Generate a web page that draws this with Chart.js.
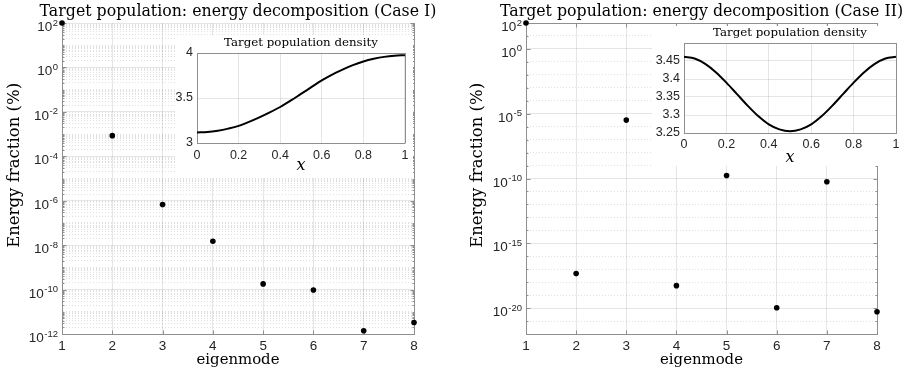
<!DOCTYPE html>
<html><head><meta charset="utf-8">
<script src="https://cdn.jsdelivr.net/npm/chart.js@4.4.1/dist/chart.umd.min.js"></script>
<style>
html,body{margin:0;padding:0;background:#fff;}
#wrap{position:relative;width:908px;height:370px;overflow:hidden;background:#fff;}
canvas{position:absolute;display:block;}
.inset{background:#fff;}
</style></head><body>
<div id="wrap">
<canvas id="mainL" width="476" height="370" style="left:0;top:0;width:476px;height:370px"></canvas>
<canvas id="mainR" width="495" height="370" style="left:454px;top:0;width:495px;height:370px"></canvas>
<canvas id="insetL" class="inset" width="238" height="143" style="left:175px;top:35px;width:238px;height:143px"></canvas>
<canvas id="insetR" class="inset" width="256" height="140" style="left:652px;top:26px;width:256px;height:140px"></canvas>
</div>
<script>
// ---------------- data ----------------
const eigenmodes = [1, 2, 3, 4, 5, 6, 7, 8];
const energyCaseI  = [100, 8.5e-4, 6.8e-7, 1.5e-8, 1.8e-10, 9.5e-11, 1.4e-12, 3.3e-12];
const energyCaseII = [100, 4.6e-18, 3.2e-6, 5.4e-19, 1.7e-10, 1.07e-20, 5.6e-11, 5.2e-21];

const densityX      = [0, 0.05, 0.1, 0.15, 0.2, 0.25, 0.3, 0.35, 0.4, 0.45, 0.5, 0.55, 0.6, 0.65, 0.7, 0.75, 0.8, 0.85, 0.9, 0.95, 1];
const densityCaseI  = [3.117, 3.122, 3.137, 3.16, 3.19, 3.235, 3.285, 3.34, 3.40, 3.47, 3.545, 3.62, 3.695, 3.76, 3.815, 3.865, 3.905, 3.935, 3.957, 3.97, 3.975];
const densityCaseII = [3.462, 3.457, 3.442, 3.419, 3.39, 3.358, 3.326, 3.297, 3.274, 3.26, 3.255, 3.26, 3.274, 3.297, 3.326, 3.358, 3.39, 3.419, 3.442, 3.457, 3.462];

const titleCaseI  = 'Target population: energy decomposition (Case I)';
const titleCaseII = 'Target population: energy decomposition (Case II)';
const insetTitle  = 'Target population density';
const yLabelMain  = 'Energy fraction (%)';
const xLabelMain  = 'eigenmode';
const xLabelInset = 'x';

const xTicksMain     = [1, 2, 3, 4, 5, 6, 7, 8];
const yExpTicksCaseI  = [2, 0, -2, -4, -6, -8, -10, -12];
const yExpTicksCaseII = [2, 0, -5, -10, -15, -20];
const xTicksInset    = [0, 0.2, 0.4, 0.6, 0.8, 1];
const yTicksInsetI   = [3, 3.5, 4];
const yTicksInsetII  = [3.25, 3.3, 3.35, 3.4, 3.45];

// ---------------- styles ----------------
const SERIF = '"DejaVu Serif", serif';
const SANS = '"Liberation Sans", Arial, sans-serif';
const AXIS = '#8f8f8f';
const TICKC = '#262626';
const GRID_MAJ = 'rgba(38,38,38,0.12)';
const GRID_MIN = 'rgba(38,38,38,0.14)';

// font size that makes a text reach a given width
const mctx = document.createElement('canvas').getContext('2d');
function fitSize(text, family, style, target) {
  mctx.font = style + ' 20px ' + family;
  return 20 * target / mctx.measureText(text).width;
}
const titleSize  = fitSize(titleCaseI, SERIF, 'normal', 397);
const yLabelSize = fitSize(yLabelMain, SERIF, 'normal', 165);
const xLabelSize = fitSize(xLabelMain, SERIF, 'normal', 83);
const insetTitleSize = fitSize(insetTitle, SERIF, 'normal', 154);
mctx.font = 'normal ' + yLabelSize + 'px ' + SERIF;
const spaceW = mctx.measureText(' ').width;
const nSpaces = Math.max(0, Math.round(28 / spaceW));
const yLabelText = ' '.repeat(nSpaces) + yLabelMain;

// log grid positions
function logGrid(minExp, maxExp, majorExps, subDecades) {
  const t = [];
  for (let e = minExp; e <= maxExp; e++) {
    t.push({value: Math.pow(10, e), major: majorExps.includes(e)});
    if (subDecades && e < maxExp) {
      for (let j = 2; j <= 9; j++) t.push({value: j * Math.pow(10, e), major: false});
    }
  }
  return t;
}

const frame = {
  id: 'frame',
  beforeDatasetsDraw(chart, args, o) {
    const {ctx, chartArea: a, scales} = chart;
    ctx.save();
    ctx.strokeStyle = o.color || AXIS;
    ctx.lineWidth = 1;
    ctx.beginPath();
    const R = Math.round(a.right) + 0.5, T = Math.round(a.top) + 0.5;
    const L = Math.round(a.left) + 0.5, B = Math.round(a.bottom) + 0.5;
    if (o.right) { ctx.moveTo(R, a.top); ctx.lineTo(R, a.bottom + 0.5); }
    if (o.top) { ctx.moveTo(a.left, T); ctx.lineTo(a.right + 0.5, T); }
    (o.xTicks || []).forEach(v => {
      const x = Math.round(scales.x.getPixelForValue(v)) + 0.5;
      ctx.moveTo(x, B); ctx.lineTo(x, B - 4);
      if (o.top) { ctx.moveTo(x, T); ctx.lineTo(x, T + 4); }
    });
    (o.yTicks || []).forEach(t => {
      const y = Math.round(scales.y.getPixelForValue(t.value)) + 0.5;
      const len = t.major ? 4 : 2;
      ctx.moveTo(L, y); ctx.lineTo(L + len, y);
      if (o.right) { ctx.moveTo(R, y); ctx.lineTo(R - len, y); }
    });
    ctx.stroke();
    ctx.restore();
  }
};

const logLabels = {
  id: 'logLabels',
  afterDraw(chart, args, o) {
    if (!o.exps) return;
    const {ctx} = chart;
    const ys = chart.scales.y;
    const xr = chart.chartArea.left - 4;
    ctx.save();
    ctx.fillStyle = TICKC;
    ctx.textBaseline = 'alphabetic';
    ctx.textAlign = 'right';
    o.exps.forEach(e => {
      const py = ys.getPixelForValue(Math.pow(10, e));
      const es = String(e);
      ctx.font = '9.5px ' + SANS;
      const ew = ctx.measureText(es).width;
      ctx.fillText(es, xr, py + 2.5);
      ctx.font = '13.5px ' + SANS;
      ctx.fillText('10', xr - ew - 0.5, py + 8);
    });
    ctx.restore();
  }
};

function mainChart(id, title, values, exps, minExp, maxExp, subDecades, rightW, yW, yTitlePad) {
  const yGrid = logGrid(minExp, maxExp, exps, subDecades);
  return new Chart(document.getElementById(id), {
    type: 'scatter',
    data: {datasets: [{
      data: eigenmodes.map((m, i) => ({x: m, y: values[i]})),
      backgroundColor: '#000', borderColor: '#000',
      pointRadius: 2.8, pointHoverRadius: 2.8, pointBorderWidth: 0, clip: false
    }]},
    options: {
      responsive: false, animation: false, events: [],
      layout: {padding: 0},
      plugins: {
        legend: {display: false}, tooltip: {enabled: false},
        title: {display: true, text: title, fullSize: true, color: '#000',
          font: {family: SERIF, size: titleSize, weight: 'normal', lineHeight: '20px'},
          padding: {top: 1.5, bottom: 1.5}},
        frame: {right: true, top: id === 'mainR', xTicks: xTicksMain, yTicks: yGrid},
        logLabels: {exps: exps}
      },
      scales: {
        x: {
          type: 'linear', min: 1, max: 8,
          afterBuildTicks: s => { s.ticks = xTicksMain.map(v => ({value: v})); },
          ticks: {font: {family: SANS, size: 13.5}, color: TICKC, padding: 4.4, autoSkip: false, maxRotation: 0, callback: v => String(v)},
          grid: {drawTicks: false, color: GRID_MAJ, lineWidth: 1},
          border: {color: AXIS, width: 1},
          title: {display: true, text: xLabelMain, color: '#000', font: {family: SERIF, size: xLabelSize, lineHeight: '16px'}, padding: {top: 0, bottom: 2}},
          afterFit: s => { s.height = 36; }
        },
        y: {
          type: 'logarithmic', min: Math.pow(10, minExp), max: Math.pow(10, maxExp),
          afterBuildTicks: s => { s.ticks = yGrid.map(t => ({value: t.value, major: t.major})); },
          ticks: {display: false},
          grid: {drawTicks: false, lineWidth: 1, color: c => (c.tick && !c.tick.major) ? GRID_MIN : GRID_MAJ},
          border: {color: AXIS, width: 1, dash: c => (c.type === 'tick' && c.tick && !c.tick.major) ? [1, 2] : []},
          title: {display: true, text: yLabelText, color: '#000', font: {family: SERIF, size: yLabelSize, lineHeight: '17px'}, padding: {top: yTitlePad, bottom: 0}},
          afterFit: s => { s.width = yW; }
        },
        yRight: {
          type: 'linear', position: 'right', display: true, min: 0, max: 1,
          ticks: {display: false}, grid: {display: false, drawTicks: false}, border: {display: false},
          afterFit: s => { s.width = rightW; }
        }
      }
    },
    plugins: [frame, logLabels]
  });
}

function insetChart(id, ys, yMin, yMax, yTicks, padRight, yW, xH, tPad, xTitlePB, xTickPad) {
  return new Chart(document.getElementById(id), {
    type: 'scatter',
    data: {datasets: [{
      data: densityX.map((x, i) => ({x: x, y: ys[i]})),
      showLine: true, borderColor: '#000', borderWidth: 2, pointRadius: 0,
      cubicInterpolationMode: 'monotone', fill: false
    }]},
    options: {
      responsive: false, animation: false, events: [],
      layout: {padding: {left: 0, right: padRight, top: 0, bottom: 0}},
      plugins: {
        legend: {display: false}, tooltip: {enabled: false},
        title: {display: true, text: insetTitle, fullSize: false, color: '#000',
          font: {family: SERIF, size: insetTitleSize, weight: 'normal', lineHeight: '14px'}, padding: tPad},
        frame: {right: true, top: true}
      },
      scales: {
        x: {
          type: 'linear', min: 0, max: 1,
          afterBuildTicks: s => { s.ticks = xTicksInset.map(v => ({value: v})); },
          ticks: {font: {family: SANS, size: 12.5}, color: TICKC, padding: xTickPad, autoSkip: false, maxRotation: 0, callback: v => String(v)},
          grid: {drawTicks: false, color: GRID_MAJ},
          border: {color: AXIS, width: 1},
          title: {display: true, text: xLabelInset, color: '#000', font: {family: SERIF, size: 16, style: 'italic', lineHeight: 1}, padding: {top: 0, bottom: xTitlePB}},
          afterFit: s => { s.height = xH; }
        },
        y: {
          type: 'linear', min: yMin, max: yMax,
          afterBuildTicks: s => { s.ticks = yTicks.map(v => ({value: v})); },
          ticks: {font: {family: SANS, size: 12.5}, color: TICKC, padding: 4, autoSkip: false, callback: v => String(v)},
          grid: {drawTicks: false, color: GRID_MAJ},
          border: {color: AXIS, width: 1},
          afterFit: s => { s.width = yW; }
        }
      }
    },
    plugins: [frame]
  });
}

mainChart('mainL', titleCaseI, energyCaseI, yExpTicksCaseI, -12, 2, true, 62, 62, 6);
mainChart('mainR', titleCaseII, energyCaseII, yExpTicksCaseII, -22, 2, false, 72, 72, 15.5);
insetChart('insetL', densityCaseI, 3, 4, yTicksInsetI, 4, 22, 35, {top: 1, bottom: 3}, 4, 4.6);
insetChart('insetR', densityCaseII, 3.25, 3.5, yTicksInsetII, 12, 32, 33, {top: 0, bottom: 3}, 0, 3.6);
</script>
</body></html>
